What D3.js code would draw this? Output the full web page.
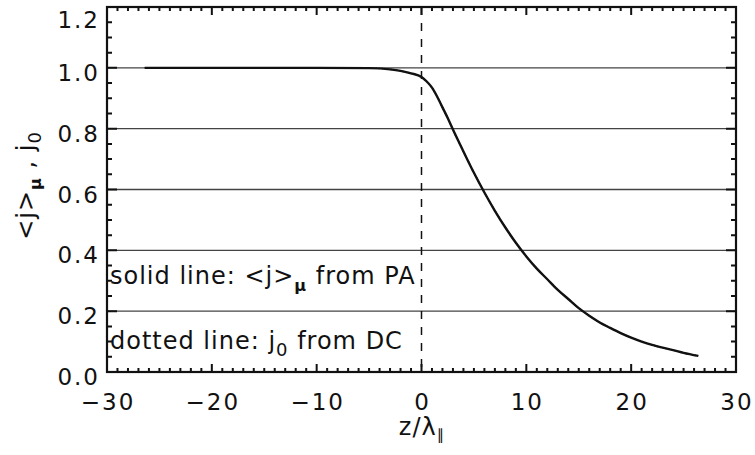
<!DOCTYPE html>
<html>
<head>
<meta charset="utf-8">
<script src="https://cdn.jsdelivr.net/npm/d3@7"></script>
<style>
  body { margin: 0; background: #fff; }
  text { font-family: "DejaVu Sans", sans-serif; fill: #111; }
</style>
</head>
<body>
<div id="chart"></div>
<script>
// z / lambda_parallel positions
var zValues = [-26.4, -15, -10, -5, -3, -2, -1, 0, 0.5, 1, 1.5, 2, 2.5, 3, 4, 5, 6, 7, 8, 9, 10,
    11, 12, 13, 14, 15, 16, 17, 18, 19, 20, 21, 22, 23, 24, 25, 26.4];
// <j>_mu from PA (solid)
var paValues = [1.0, 1.0, 1.0, 0.999, 0.995, 0.99, 0.982, 0.97, 0.955, 0.935, 0.905, 0.87, 0.835, 0.797,
    0.725, 0.655, 0.59, 0.53, 0.475, 0.425, 0.38, 0.34, 0.305, 0.27, 0.24, 0.21, 0.185, 0.163,
    0.145, 0.128, 0.113, 0.1, 0.089, 0.08, 0.072, 0.063, 0.053];
// j_0 from DC (dotted) - lies on top of the solid curve
var dcValues = [1.0, 1.0, 1.0, 0.999, 0.995, 0.99, 0.982, 0.97, 0.955, 0.935, 0.905, 0.87, 0.835, 0.797,
    0.725, 0.655, 0.59, 0.53, 0.475, 0.425, 0.38, 0.34, 0.305, 0.27, 0.24, 0.21, 0.185, 0.163,
    0.145, 0.128, 0.113, 0.1, 0.089, 0.08, 0.072, 0.063, 0.053];
var xTicks = [-30, -20, -10, 0, 10, 20, 30];
var yTicks = [0.0, 0.2, 0.4, 0.6, 0.8, 1.0, 1.2];
var gridValues = [0.2, 0.4, 0.6, 0.8, 1.0];

var W = 755, H = 455;
var margin = {top: 7, right: 19, bottom: 83, left: 107};
var width = W - margin.left - margin.right,
    height = H - margin.top - margin.bottom;

var svg = d3.select("#chart").append("svg")
    .attr("width", W).attr("height", H)
    .append("g")
    .attr("transform", "translate(" + margin.left + "," + margin.top + ")");

var x = d3.scaleLinear().domain([-30, 30]).range([0, width]);
var y = d3.scaleLinear().domain([0, 1.2]).range([height, 0]);

// horizontal grid lines
svg.selectAll(".grid").data(gridValues).enter().append("line")
    .attr("x1", 0).attr("x2", width)
    .attr("y1", function (d) { return y(d); })
    .attr("y2", function (d) { return y(d); })
    .style("stroke", "#444").style("stroke-width", 1.3);

// dashed line at z = 0
svg.append("line")
    .attr("x1", x(0)).attr("x2", x(0))
    .attr("y1", 0).attr("y2", height)
    .style("stroke", "#111").style("stroke-width", 1.5)
    .style("stroke-dasharray", "8,8");

// inward ticks on all four sides (minor every 1 in z, every 0.05 in j)
var xMinor = d3.range(-30, 30.5, 1);
var yMinor = d3.range(0, 24.5, 1).map(function (v) { return v * 0.05; });
function isMajor(list, v) {
    return list.some(function (m) { return Math.abs(m - v) < 1e-6; });
}
var tickPath = "";
xMinor.forEach(function (d) {
    var len = isMajor(xTicks, d) ? 8 : 4;
    tickPath += "M" + x(d) + ",0v" + len;
    tickPath += "M" + x(d) + "," + height + "v" + (-len);
});
yMinor.forEach(function (d) {
    var len = isMajor(yTicks, d) ? 10 : 5;
    tickPath += "M0," + y(d) + "h" + len;
    tickPath += "M" + width + "," + y(d) + "h" + (-len);
});
svg.append("path").attr("class", "ticks")
    .attr("d", tickPath)
    .attr("fill", "none")
    .attr("stroke", "#111")
    .attr("stroke-width", 2);

// frame
svg.append("rect").attr("width", width).attr("height", height)
    .style("fill", "none").style("stroke", "#111").style("stroke-width", 2.2);

// tick labels
svg.selectAll(".xl").data(xTicks).enter().append("text")
    .attr("x", function (d) { return x(d) + 1; })
    .attr("y", height + 38)
    .attr("text-anchor", "middle")
    .style("font-size", "23px").style("letter-spacing", "2px")
    .text(function (d) { return d < 0 ? "\u2212" + Math.abs(d) : d; });

svg.selectAll(".yl").data(yTicks).enter().append("text")
    .attr("x", -7)
    .attr("y", function (d) { return Math.max(y(d) + 13, 21); })
    .attr("text-anchor", "end")
    .style("font-size", "23px").style("letter-spacing", "2px")
    .text(function (d) { return d.toFixed(1); });

// curves
var pts = zValues.map(function (z, i) { return {z: z, pa: paValues[i], dc: dcValues[i]}; });
var line = d3.line().curve(d3.curveMonotoneX).x(function (d) { return x(d.z); });

svg.append("path").datum(pts)
    .attr("d", line.y(function (d) { return y(d.dc); }))
    .style("fill", "none").style("stroke", "#111").style("stroke-width", 1.5)
    .style("stroke-dasharray", "1,2");
svg.append("path").datum(pts)
    .attr("d", line.y(function (d) { return y(d.pa); }))
    .style("fill", "none").style("stroke", "#111").style("stroke-width", 2.4);

// legend texts
var leg1 = svg.append("text").attr("x", 3).attr("y", y(0.3) + 3)
    .style("font-size", "24px").style("letter-spacing", "1px");
leg1.append("tspan").text("solid line: <j>");
leg1.append("tspan").attr("dy", 7).style("font-size", "16px").style("font-weight", "bold").text("\u03bc");
leg1.append("tspan").attr("dy", -7).text(" from PA");

var leg2 = svg.append("text").attr("x", 3).attr("y", y(0.1) + 7)
    .style("font-size", "24px").style("letter-spacing", "1px");
leg2.append("tspan").text("dotted line: j");
leg2.append("tspan").attr("dy", 7).style("font-size", "18px").text("0");
leg2.append("tspan").attr("dy", -7).text(" from DC");

// axis titles
var xt = svg.append("text").attr("x", x(0)).attr("y", height + 63)
    .attr("text-anchor", "middle").style("font-size", "24px").style("letter-spacing", "1px");
xt.append("tspan").text("z/\u03bb");
xt.append("tspan").attr("dy", 5).style("font-size", "15px").style("letter-spacing", "0px").text("\u2225");

var yt = svg.append("text")
    .attr("transform", "translate(" + (-73) + "," + (y(0.6) - 4) + ") rotate(-90)")
    .attr("text-anchor", "middle").style("font-size", "24px").style("letter-spacing", "1px");
yt.append("tspan").text("<j>");
yt.append("tspan").attr("dy", 7).style("font-size", "16px").style("font-weight", "bold").text("\u03bc");
yt.append("tspan").attr("dy", -7).text(" , j");
yt.append("tspan").attr("dy", 7).style("font-size", "18px").text("0");
</script>
</body>
</html>
